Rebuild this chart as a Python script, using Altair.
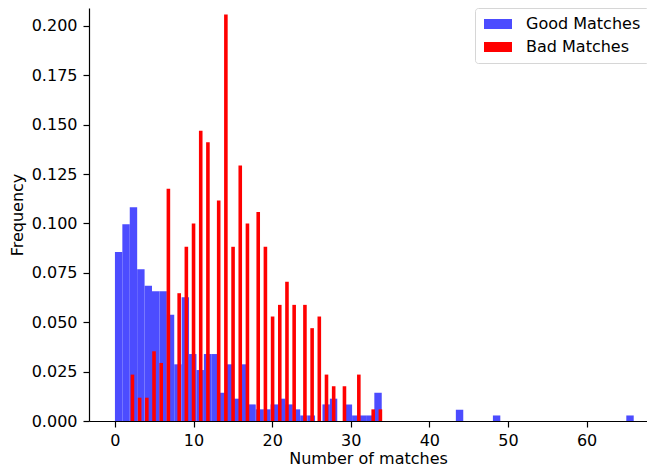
import altair as alt
import numpy as np
import pandas as pd

# ---- data ----
# Good matches: 70 equal bins over [0, 66], density per bin
blue_range = (0, 66)
blue_bins = 70
blue_freq = [0.0856, 0.0996, 0.1082, 0.0768, 0.0685, 0.0657, 0.0657, 0.0538, 0.0287, 0.0626,
             0.0339, 0.0258, 0.0339, 0.0339, 0.0143, 0.0287, 0.0113, 0.0287, 0.0084, 0.0059,
             0.0059, 0.0084, 0.0113, 0.0084, 0.0059, 0.0028, 0.0028, 0.0, 0.0084, 0.0113,
             0.0, 0.0084, 0.0028, 0.0028, 0.0028, 0.0143, 0.0, 0.0, 0.0, 0.0,
             0.0, 0.0, 0.0, 0.0, 0.0, 0.0, 0.0057, 0.0, 0.0, 0.0,
             0.0, 0.0028, 0.0, 0.0, 0.0, 0.0, 0.0, 0.0, 0.0, 0.0,
             0.0, 0.0, 0.0, 0.0, 0.0, 0.0, 0.0, 0.0, 0.0, 0.0028]

# Bad matches: value (number of matches) and density, 70 bins over [2, 34]
red_range = (2, 34)
red_bins = 70
red_values = [2, 3, 4, 5, 6, 7, 8, 9, 10, 11, 12, 13, 14, 15, 16, 17, 18,
              19, 20, 21, 22, 23, 24, 25, 26, 27, 28, 29, 31, 33, 34]
red_freq = [0.0235, 0.0118, 0.0118, 0.0353, 0.0294, 0.1176, 0.0647, 0.0882, 0.1000, 0.1470,
            0.1411, 0.1117, 0.2058, 0.0882, 0.1294, 0.1000, 0.1058, 0.0882, 0.0529, 0.0588,
            0.0705, 0.0588, 0.0588, 0.0470, 0.0529, 0.0235, 0.0176, 0.0176, 0.0235, 0.0059,
            0.0059]

series_names = ["Good Matches", "Bad Matches"]
series_colors = ["#4c4cff", "#ff0000"]

x_ticks = [0, 10, 20, 30, 40, 50, 60]
y_ticks = [0.0, 0.025, 0.05, 0.075, 0.1, 0.125, 0.15, 0.175, 0.2]

# ---- build bar tables ----
b_edges = np.linspace(blue_range[0], blue_range[1], blue_bins + 1)
blue_df = pd.DataFrame({"x0": b_edges[:-1], "x1": b_edges[1:], "freq": blue_freq})
blue_df = blue_df[blue_df["freq"] > 0]
blue_df["series"] = series_names[0]

r_hist, r_edges = np.histogram(red_values, bins=red_bins, range=red_range, weights=red_freq)
red_df = pd.DataFrame({"x0": r_edges[:-1], "x1": r_edges[1:], "freq": r_hist})
red_df = red_df[red_df["freq"] > 0]
red_df["series"] = series_names[1]

FONT = "DejaVu Sans"
FS = 16

color = alt.Color(
    "series:N",
    scale=alt.Scale(domain=series_names, range=series_colors),
    legend=alt.Legend(
        title=None, orient="none", legendX=386, legendY=0,
        symbolType="M-1,-0.714H3V0.714H-1Z", symbolSize=196,
        symbolStrokeWidth=0, symbolOpacity=1,
        labelFont=FONT, labelFontSize=FS, labelColor="#000000",
        labelOffset=27, rowPadding=7, padding=8,
        strokeColor="#d6d6d6", fillColor="#ffffff", cornerRadius=3,
    ),
)

x_enc = alt.X(
    "x0:Q",
    scale=alt.Scale(domain=[-3.3, 67.69], nice=False, zero=False),
    axis=alt.Axis(title="Number of matches", values=x_ticks, format="d",
                  labelPadding=5, titlePadding=2),
)
y_enc = alt.Y(
    "freq:Q",
    scale=alt.Scale(domain=[0, 0.2091], nice=False),
    axis=alt.Axis(title="Frequency", values=y_ticks, format=".3f",
                  labelPadding=6, titlePadding=6),
)

blue = alt.Chart(blue_df).mark_bar(strokeWidth=0).encode(
    x=x_enc, x2="x1:Q", y=y_enc, y2=alt.datum(0), color=color
)
red = alt.Chart(red_df).mark_bar(strokeWidth=0).encode(
    x=x_enc, x2="x1:Q", y=y_enc, y2=alt.datum(0), color=color
)

chart = (
    alt.layer(blue, red)
    .properties(
        width=558, height=413,
        autosize=alt.AutoSizeParams(type="none"),
        padding={"left": 81, "top": 0, "right": 0, "bottom": 46},
    )
    .configure_view(stroke=None)
    .configure_axis(
        grid=False, domainColor="#000000", domainWidth=1.2,
        tickColor="#000000", tickWidth=1.2, tickSize=6,
        labelFont=FONT, labelFontSize=FS, labelColor="#000000",
        titleFont=FONT, titleFontSize=FS, titleColor="#000000", titleFontWeight="normal",
    )
)

chart.save("out.html", embed_options={"renderer": "svg", "actions": False})
